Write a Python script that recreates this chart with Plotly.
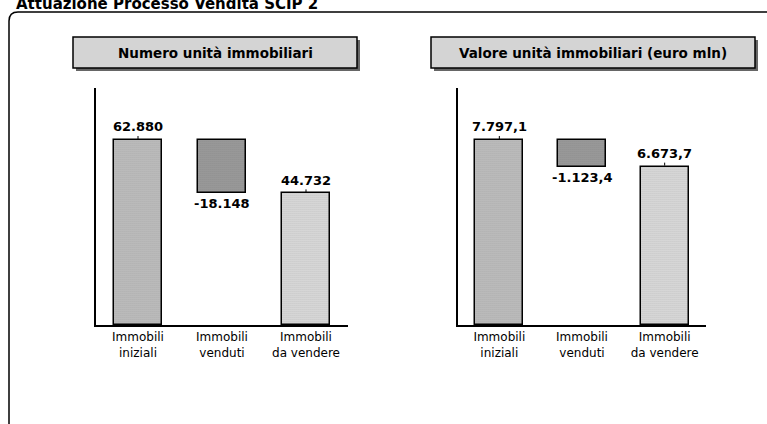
import plotly.graph_objects as go

W, H = 767, 424

# --- data -------------------------------------------------------------
categories = ["Immobili<br>iniziali", "Immobili<br>venduti", "Immobili<br>da vendere"]
units_count = [62880, -18148, 44732]          # numero unità immobiliari
units_value = [7797.1, -1123.4, 6673.7]       # valore (euro mln)
panel_titles = ["Numero unità immobiliari", "Valore unità immobiliari (euro mln)"]
page_title = "Attuazione Processo Vendita SCIP 2"

FONT = "DejaVu Sans"


def it_fmt(v, dec):
    s = f"{v:,.{dec}f}"
    return s.replace(",", "#").replace(".", ",").replace("#", ".")


def px(x):
    return x / W


def py(y):
    return 1 - y / H


fig = go.Figure()
annotations = []
shapes = []

fill_bg = ["#c6c6c6", "#a0a0a0", "#e4e4e4"]
fill_fg = ["#9a9a9a", "#787878", "#bdbdbd"]

panels = [
    dict(data=units_count, dec=0, xdom=(96, 348), box=(73, 357), suffix=""),
    dict(data=units_value, dec=1, xdom=(458, 706), box=(431, 755), suffix="2"),
]

for p in panels:
    vals = p["data"]
    start, delta, end = vals
    bases = [0, start + delta, 0]
    heights = [start, -delta, end]
    sfx = p["suffix"]
    fig.add_trace(go.Bar(
        x=categories, y=heights, base=bases, width=0.58,
        marker=dict(
            color=fill_bg,
            line=dict(color="black", width=1.5),
            pattern=dict(shape=".", fgcolor=fill_fg, bgcolor=fill_bg, size=2, solidity=0.3),
        ),
        xaxis="x" + sfx, yaxis="y" + sfx, showlegend=False, hoverinfo="skip",
    ))

    xa = dict(
        domain=[px(p["xdom"][0]), px(p["xdom"][1])], anchor="y" + sfx,
        type="category", range=[-0.5, 2.5],
        showline=True, linecolor="black", linewidth=1.5, ticks="",
        showgrid=False, tickfont=dict(family=FONT, size=12, color="black"),
    )
    ya = dict(
        domain=[py(325), py(88)], anchor="x" + sfx,
        range=[0, start * 1.281], showline=True, linecolor="black", linewidth=1.5,
        showticklabels=False, ticks="", showgrid=False, zeroline=False,
    )
    fig.update_layout({"xaxis" + sfx: xa, "yaxis" + sfx: ya})

    # value labels
    for cat, v in zip(categories, vals):
        if v > 0:
            annotations.append(dict(
                x=cat, y=v, xref="x" + sfx, yref="y" + sfx,
                text="<b>" + it_fmt(v, p["dec"]) + "</b>",
                showarrow=True, ax=0, ay=-13, arrowhead=0, arrowwidth=1,
                arrowcolor="black", standoff=1,
                font=dict(family=FONT, size=13, color="black"),
            ))
        else:
            annotations.append(dict(
                x=cat, y=start + v, xref="x" + sfx, yref="y" + sfx,
                text="<b>" + it_fmt(v, p["dec"]) + "</b>",
                showarrow=False, yanchor="top", yshift=-1,
                font=dict(family=FONT, size=13, color="black"),
            ))

    # panel title box with drop shadow
    bx0, bx1 = p["box"]
    shapes.append(dict(type="rect", xref="paper", yref="paper",
                       x0=px(bx0 + 3), x1=px(bx1 + 3), y0=py(40), y1=py(71),
                       fillcolor="#666666", line=dict(width=0)))
    shapes.append(dict(type="rect", xref="paper", yref="paper",
                       x0=px(bx0), x1=px(bx1), y0=py(37), y1=py(68),
                       fillcolor="#d4d4d4", line=dict(color="black", width=1.5)))

for (bx0, bx1), t in zip([(73, 357), (431, 755)], panel_titles):
    annotations.append(dict(
        x=px((bx0 + bx1) / 2), y=py(53), xref="paper", yref="paper",
        xanchor="center", yanchor="middle",
        text="<b>" + t + "</b>", showarrow=False,
        font=dict(family=FONT, size=13.5, color="black"),
    ))

# page title, running off the top edge
annotations.append(dict(
    x=px(14), y=py(15), xref="paper", yref="paper", xanchor="left", yanchor="bottom",
    text="<b>" + page_title + "</b>", showarrow=False,
    font=dict(family=FONT, size=15, color="black"),
))

# rounded frame around the two panels
r = 9
frame = (f"M {px(9)},{py(424)} L {px(9)},{py(12 + r)} "
         f"Q {px(9)},{py(12)} {px(9 + r)},{py(12)} L {px(767)},{py(12)}")
shapes.append(dict(type="path", xref="paper", yref="paper", path=frame,
                   line=dict(color="black", width=1.5)))

fig.update_layout(
    width=W, height=H, margin=dict(l=0, r=0, t=0, b=0),
    paper_bgcolor="white", plot_bgcolor="white",
    annotations=annotations, shapes=shapes, bargap=0,
)

fig.write_html("out.html")
